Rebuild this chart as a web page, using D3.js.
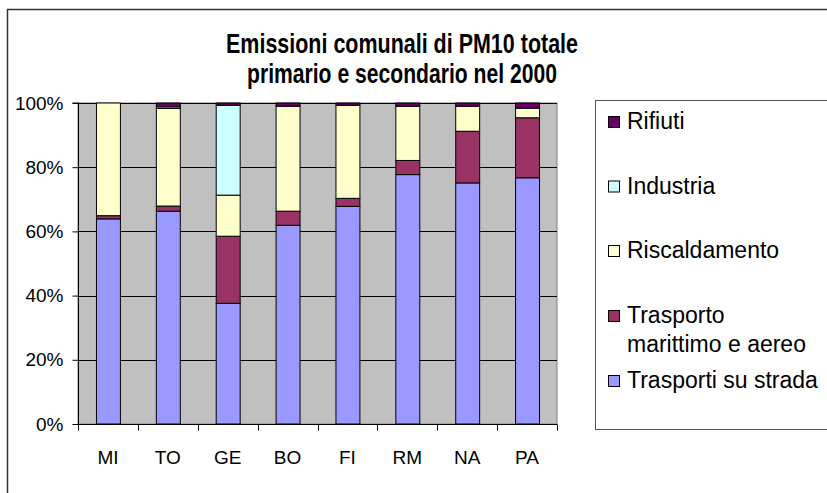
<!DOCTYPE html>
<html>
<head>
<meta charset="utf-8">
<script src="https://cdn.jsdelivr.net/npm/d3@7"></script>
<style>
  html, body { margin: 0; padding: 0; background: #fff; }
  svg { display: block; font-family: "Liberation Sans", Arial, sans-serif; }
</style>
</head>
<body>
<svg id="chart" width="827" height="493"></svg>
<script>
// Cities
const cities = ["MI", "TO", "GE", "BO", "FI", "RM", "NA", "PA"];

// Share of PM10 emissions per source (%), stacked bottom to top
const trasportiStrada   = [63.9, 66.3, 37.6, 61.9, 67.8, 77.7, 75.1, 76.7];
const trasportoMarAereo = [ 1.0,  1.6, 20.9,  4.4,  2.5,  4.4, 16.1, 18.7];
const riscaldamento     = [35.1, 30.4, 12.8, 32.7, 29.0, 16.9,  7.8,  3.0];
const industria         = [ 0.0,  0.5, 28.0,  0.0,  0.0,  0.0,  0.0,  0.0];
const rifiuti           = [ 0.0,  1.2,  0.7,  1.0,  0.7,  1.0,  1.0,  1.6];

const seriesNames = ["Trasporti su strada", "Trasporto marittimo e aereo", "Riscaldamento", "Industria", "Rifiuti"];
const seriesColors = ["#9999FF", "#993366", "#FFFFCC", "#CCFFFF", "#660066"];
const yTicks = [0, 20, 40, 60, 80, 100];

const titleLines = ["Emissioni comunali di PM10 totale", "primario e secondario nel 2000"];

const FONT = "'Liberation Sans', Arial, sans-serif";
const svg = d3.select("#chart");

// chart frame
svg.append("rect")
  .attr("x", 7.5).attr("y", 9.5)
  .attr("width", 840).attr("height", 500)
  .attr("fill", "#fff").attr("stroke", "#333").attr("stroke-width", 1.5);

const plot = { left: 78, top: 103, right: 557, bottom: 424 };

const x = d3.scaleBand().domain(cities).range([plot.left, plot.right]).paddingInner(0.6).paddingOuter(0.3);
const xTickScale = d3.scaleBand().domain(cities).range([plot.left, plot.right]);
const y = d3.scaleLinear().domain([0, 100]).range([plot.bottom, plot.top]);

// plot background
svg.append("rect")
  .attr("x", plot.left).attr("y", plot.top)
  .attr("width", plot.right - plot.left).attr("height", plot.bottom - plot.top)
  .attr("fill", "#C0C0C0").attr("stroke", "#808080").attr("stroke-width", 1);

// gridlines
svg.append("g").selectAll("line").data(yTicks.slice(1)).join("line")
  .attr("x1", plot.left).attr("x2", plot.right)
  .attr("y1", d => Math.round(y(d)) + 0.5).attr("y2", d => Math.round(y(d)) + 0.5)
  .attr("stroke", "#000").attr("stroke-width", 1);

// stacked bars
const rows = cities.map((c, i) => ({
  city: c,
  [seriesNames[0]]: trasportiStrada[i],
  [seriesNames[1]]: trasportoMarAereo[i],
  [seriesNames[2]]: riscaldamento[i],
  [seriesNames[3]]: industria[i],
  [seriesNames[4]]: rifiuti[i]
}));
const stacked = d3.stack().keys(seriesNames)(rows);

svg.append("g").selectAll("g").data(stacked).join("g")
  .attr("fill", (d, i) => seriesColors[i])
  .selectAll("rect").data(d => d.filter(s => s[1] - s[0] > 0)).join("rect")
  .attr("x", d => x(d.data.city) + 0.5)
  .attr("width", x.bandwidth())
  .attr("y", d => y(d[1]))
  .attr("height", d => y(d[0]) - y(d[1]))
  .attr("stroke", "#000").attr("stroke-width", 1);

// axes
const yAxis = d3.axisLeft(y).tickValues(yTicks).tickFormat(d => d + "%").tickSize(6).tickPadding(9);
const gy = svg.append("g").attr("transform", `translate(${plot.left + 0.5},0)`).call(yAxis);
gy.selectAll("text").attr("font-size", 19).attr("fill", "#000").attr("font-family", FONT);
gy.selectAll("line").attr("stroke", "#000");
gy.select(".domain").attr("stroke", "#000").attr("d", `M-6,${plot.top}H0V${plot.bottom}`);

const gx = svg.append("g").attr("transform", `translate(0,${plot.bottom + 0.5})`);
gx.append("line").attr("x1", plot.left).attr("x2", plot.right).attr("stroke", "#000");
const tickXs = cities.map(c => xTickScale(c)).concat([plot.right]);
gx.selectAll("line.tk").data(tickXs).join("line").attr("class", "tk")
  .attr("x1", d => Math.round(d) + 0.5).attr("x2", d => Math.round(d) + 0.5)
  .attr("y1", 0).attr("y2", 6).attr("stroke", "#000");
gx.selectAll("text").data(cities).join("text")
  .attr("x", d => xTickScale(d) + xTickScale.bandwidth() / 2)
  .attr("y", 39)
  .attr("text-anchor", "middle")
  .attr("font-size", 19).attr("fill", "#000")
  .text(d => d);

// title: tall, condensed bold lettering
const titleWidths = [352, 310];
svg.append("g").selectAll("text").data(titleLines).join("text")
  .attr("x", 402).attr("y", (d, i) => 53 + i * 30)
  .attr("text-anchor", "middle")
  .attr("font-size", 27).attr("font-weight", "bold").attr("fill", "#000")
  .attr("textLength", (d, i) => titleWidths[i])
  .attr("lengthAdjust", "spacingAndGlyphs")
  .text(d => d);

// legend
svg.append("rect")
  .attr("x", 595.5).attr("y", 100.5).attr("width", 260).attr("height", 329)
  .attr("fill", "#fff").attr("stroke", "#555").attr("stroke-width", 1);

const legendItems = [
  { lines: ["Rifiuti"], color: seriesColors[4], base: [129] },
  { lines: ["Industria"], color: seriesColors[3], base: [193.5] },
  { lines: ["Riscaldamento"], color: seriesColors[2], base: [258] },
  { lines: ["Trasporto", "marittimo e aereo"], color: seriesColors[1], base: [323, 352] },
  { lines: ["Trasporti su strada"], color: seriesColors[0], base: [388] }
];
const lg = svg.append("g").selectAll("g").data(legendItems).join("g");
lg.append("rect")
  .attr("x", 608.5).attr("y", d => d.base[0] - 12.5).attr("width", 11).attr("height", 11)
  .attr("fill", d => d.color).attr("stroke", "#000").attr("stroke-width", 1);
lg.each(function(d) {
  d3.select(this).selectAll("text").data(d.lines).join("text")
    .attr("x", 627)
    .attr("y", (t, i) => d.base[i])
    .attr("font-size", 23).attr("fill", "#000")
    .text(t => t);
});
</script>
</body>
</html>
